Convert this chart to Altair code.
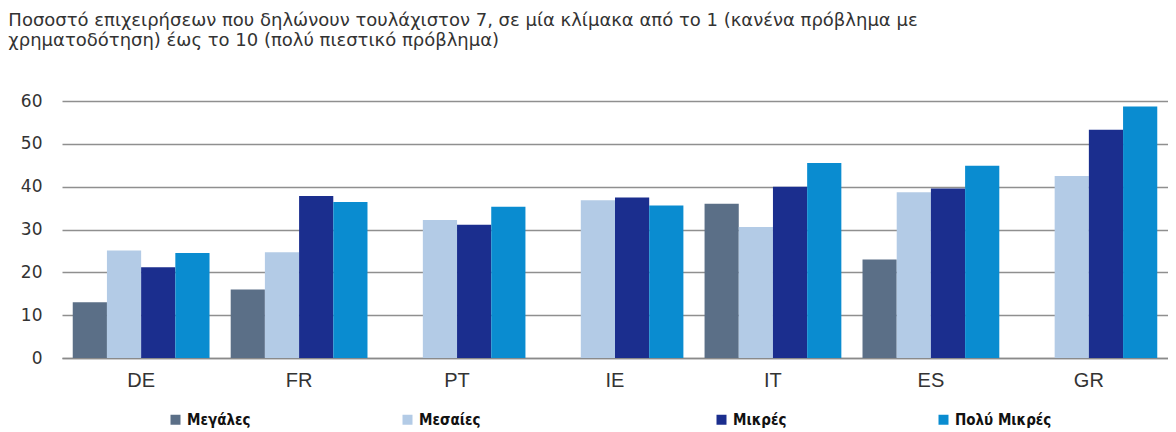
import altair as alt
import pandas as pd

countries = ["DE", "FR", "PT", "IE", "IT", "ES", "GR"]
series = ["Μεγάλες", "Μεσαίες", "Μικρές", "Πολύ Μικρές"]
large = [13.0, 16.0, None, None, 36.0, 23.0, None]
medium = [25.1, 24.7, 32.2, 36.8, 30.6, 38.7, 42.5]
small = [21.2, 37.8, 31.1, 37.5, 40.0, 39.6, 53.3]
very_small = [24.5, 36.4, 35.3, 35.6, 45.5, 44.9, 58.7]
colors = ["#5b6f87", "#b3cbe6", "#1b2e8e", "#0a8cd0"]
y_ticks = [0, 10, 20, 30, 40, 50, 60]

rows = []
for name, vals in zip(series, [large, medium, small, very_small]):
    for c, v in zip(countries, vals):
        if v is not None:
            rows.append({"country": c, "size": name, "value": v})
df = pd.DataFrame(rows)

pad = "\u2800" * 8
label_expr = f"datum.label == 'Μεσαίες' ? datum.label + '{pad}' : datum.label"

chart = alt.Chart(df).mark_bar().encode(
    x=alt.X("country:N", sort=countries,
            scale=alt.Scale(paddingInner=0.134, paddingOuter=0.068),
            axis=alt.Axis(title=None, labelAngle=0, labelFontSize=20,
                          labelColor="#333333", labelFont="Liberation Sans",
                          labelPadding=12, ticks=False, domainColor="#8a8a8a",
                          domainWidth=1.5)),
    xOffset=alt.XOffset("size:N", sort=series, scale=alt.Scale(domain=series)),
    y=alt.Y("value:Q", scale=alt.Scale(domain=[0, 60], nice=False),
            axis=alt.Axis(title=None, values=y_ticks, labelFontSize=17,
                          labelColor="#333333", labelFont="DejaVu Sans",
                          labelPadding=20, ticks=False, domain=False,
                          gridColor="#8f8f8f", gridWidth=1.5)),
    color=alt.Color("size:N", sort=series,
                    scale=alt.Scale(domain=series, range=colors),
                    legend=alt.Legend(title=None, orient="none", direction="horizontal",
                                      legendX=106, legendY=311, symbolType="square",
                                      symbolSize=100, symbolStrokeWidth=0,
                                      labelFont="DejaVu Sans Condensed",
                                      labelFontWeight="bold", labelFontSize=15,
                                      labelColor="#111111", columnPadding=149,
                                      labelLimit=400,
                                      gridAlign="each", labelExpr=label_expr)),
).properties(
    width=1106,
    height=257,
    padding={"left": 0, "top": 4, "right": 0, "bottom": 0},
    title=alt.Title(
        ["Ποσοστό επιχειρήσεων που δηλώνουν τουλάχιστον 7, σε μία κλίμακα από το 1 (κανένα πρόβλημα με",
         "χρηματοδότηση) έως το 10 (πολύ πιεστικό πρόβλημα)"],
        anchor="start", fontSize=18, fontWeight="normal", color="#333333",
        font="DejaVu Sans", lineHeight=20, offset=42, dx=-12),
).configure_view(stroke=None)

chart.save("out.html", embed_options={"renderer": "svg", "actions": False})
